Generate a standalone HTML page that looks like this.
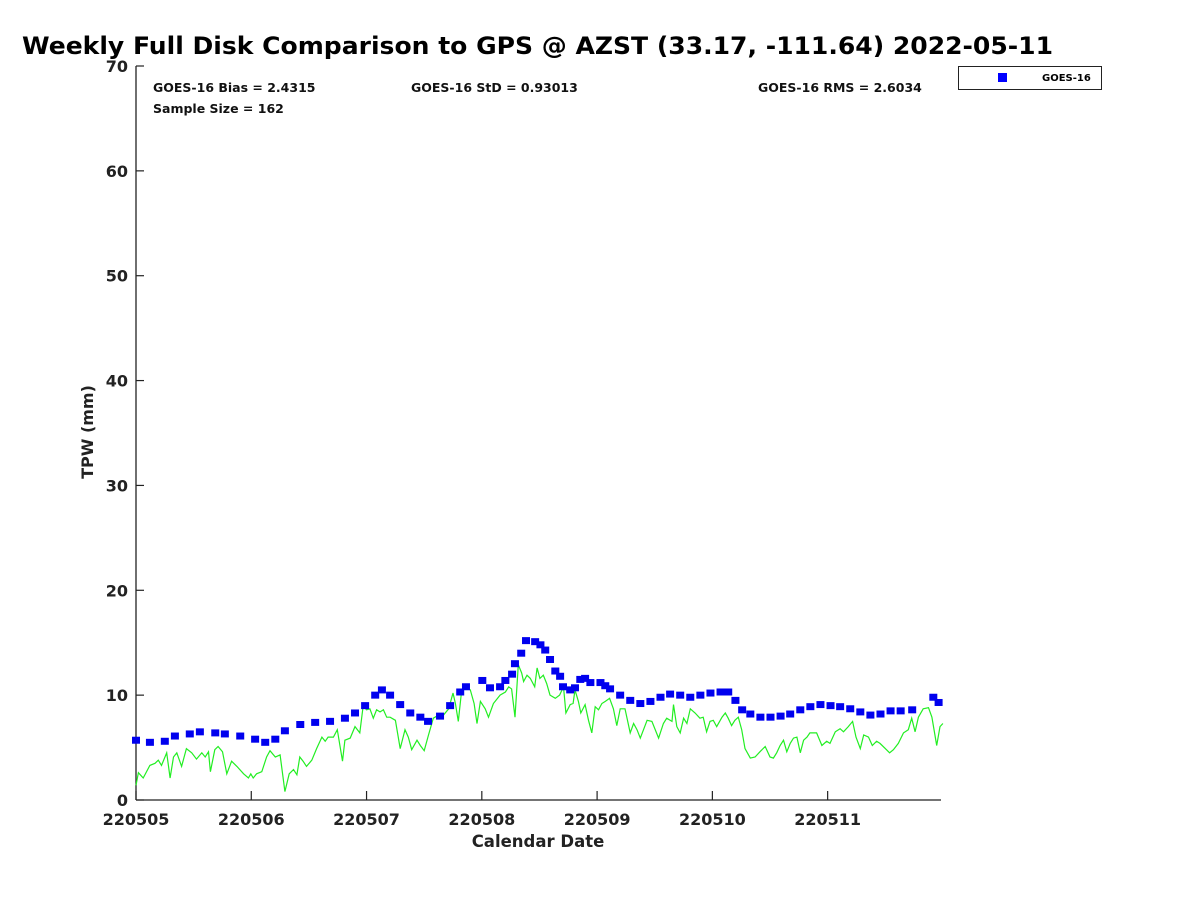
<!DOCTYPE html>
<html><head><meta charset="utf-8"><style>
body{margin:0;background:#fff;}
svg{display:block;font-family:"DejaVu Sans","Liberation Sans",sans-serif;}
</style></head><body>
<svg id="chart" width="1200" height="900" viewBox="0 0 1200 900">
<text x="22" y="54" font-size="24" font-weight="bold" textLength="1031" lengthAdjust="spacingAndGlyphs">Weekly Full Disk Comparison to GPS @ AZST (33.17, -111.64) 2022-05-11</text>
<g font-size="12.5" font-weight="bold" fill="#111">
<text x="153" y="92">GOES-16 Bias = 2.4315</text>
<text x="153" y="113">Sample Size = 162</text>
<text x="411" y="92">GOES-16 StD = 0.93013</text>
<text x="758" y="92">GOES-16 RMS = 2.6034</text>
</g>
<g>
<rect x="958.5" y="66.5" width="143" height="23" fill="#fff" stroke="#222" stroke-width="1"/>
<rect x="998" y="73" width="9" height="9" fill="#0000ff"/>
<text x="1042" y="81" font-size="10" font-weight="bold">GOES-16</text>
</g>
<g id="axes"></g>
<g id="marks"></g>
<text transform="translate(93,432) rotate(-90)" text-anchor="middle" font-size="16" font-weight="bold" fill="#222">TPW (mm)</text>
<text x="538" y="847" text-anchor="middle" font-size="16.5" font-weight="bold" fill="#222">Calendar Date</text>
</svg>
<script>
const xTickLabels=["220505","220506","220507","220508","220509","220510","220511"];
const yTicks=[0,10,20,30,40,50,60,70];
const goesHours=[0,2.9,6.0,8.1,11.2,13.3,16.5,18.5,21.7,24.8,26.9,29.0,31.0,34.2,37.3,40.4,43.5,45.6,47.7,49.8,51.2,52.9,55.0,57.1,59.2,60.8,63.3,65.4,67.5,68.7,72.1,73.7,75.8,76.9,78.3,78.9,80.2,81.2,83.1,84.2,85.2,86.2,87.3,88.3,88.9,90.4,91.4,92.5,93.5,94.6,96.7,97.7,98.7,100.8,102.9,105.0,107.1,109.2,111.2,113.3,115.4,117.5,119.6,121.7,123.3,124.8,126.2,127.9,130.0,132.1,134.2,136.2,138.3,140.4,142.5,144.6,146.6,148.7,150.8,152.9,155.0,157.1,159.2,161.6,166.0,167.1];
const goesTpw=[5.7,5.5,5.6,6.1,6.3,6.5,6.4,6.3,6.1,5.8,5.5,5.8,6.6,7.2,7.4,7.5,7.8,8.3,9.0,10.0,10.5,10.0,9.1,8.3,7.9,7.5,8.0,9.0,10.3,10.8,11.4,10.7,10.8,11.4,12.0,13.0,14.0,15.2,15.1,14.8,14.3,13.4,12.3,11.8,10.8,10.5,10.7,11.5,11.6,11.2,11.2,10.9,10.6,10.0,9.5,9.2,9.4,9.8,10.1,10.0,9.8,10.0,10.2,10.3,10.3,9.5,8.6,8.2,7.9,7.9,8.0,8.2,8.6,8.9,9.1,9.0,8.9,8.7,8.4,8.1,8.2,8.5,8.5,8.6,9.8,9.3];
const gpsHours=[0,0.5,1.5,2.9,3.95,4.65,5.3,6.4,7.1,7.8,8.5,9.5,10.5,11.6,12.6,13.7,14.4,15.1,15.5,16.4,17.1,18.0,18.9,19.9,21.0,22.4,23.4,23.9,24.4,25.1,26.2,27.2,27.9,29.0,30.0,31.0,31.9,32.8,33.5,34.1,34.8,35.5,36.6,37.6,38.7,39.4,40.0,41.1,41.9,43.0,43.5,44.6,45.6,46.6,47.3,48.0,48.7,49.4,50.1,50.8,51.5,52.2,52.9,54.0,55.0,
56.0,56.7,57.4,58.5,59.2,60.0,60.9,61.9,63.0,64.0,65.1,66.0,66.5,67.1,67.8,68.5,69.6,70.4,71.0,71.7,72.7,73.4,74.4,75.8,76.9,77.6,78.2,78.9,79.6,80.3,80.7,81.4,82.1,83.0,83.5,84.1,84.8,85.5,86.2,87.3,88.2,89.0,89.5,90.4,91.0,91.4,92.1,92.6,93.5,94.2,94.9,95.6,96.3,97.0,97.7,98.6,99.4,100.1,100.8,101.8,102.9,103.6,104.3,105.0,106.4,107.4,108.8,109.8,110.5,111.6,
111.9,112.6,113.3,114.0,114.7,115.4,116.4,117.4,118.1,118.8,119.5,120.2,120.9,122.0,122.7,123.3,124.0,124.7,125.4,126.1,126.8,127.9,128.9,129.9,131.0,132.0,132.7,133.4,134.1,134.8,135.5,136.2,136.9,137.6,138.3,139.0,139.7,140.3,141.7,142.8,143.8,144.5,145.6,146.6,147.3,148.3,149.2,149.9,150.8,151.5,152.5,153.3,154.2,154.9,156.0,156.9,157.7,158.7,159.8,160.8,161.5,162.2,162.9,163.9,165.0,165.7,166.7,167.4,168.0];
const gpsTpw=[1.4,2.6,2.1,3.3,3.5,3.8,3.3,4.5,2.1,4.1,4.5,3.2,4.9,4.5,3.9,4.5,4.1,4.6,2.7,4.8,5.1,4.6,2.5,3.7,3.2,2.5,2.1,2.5,2.1,2.5,2.7,4.1,4.7,4.1,4.3,0.8,2.5,2.9,2.4,4.1,3.7,3.2,3.8,4.9,6.0,5.6,6.0,6.0,6.7,3.7,5.7,5.9,7.0,6.4,9.0,8.6,8.7,7.8,8.6,8.4,8.6,7.9,7.9,7.6,4.9,
6.7,6.0,4.8,5.7,5.2,4.7,6.2,7.8,8.1,8.1,8.7,10.2,9.2,7.5,10.5,11.0,10.5,9.2,7.3,9.4,8.7,7.9,9.2,10.0,10.3,10.8,10.6,7.9,12.9,12.1,11.3,11.9,11.6,10.8,12.6,11.6,11.9,11.1,10.0,9.7,10.0,10.8,8.3,9.1,9.2,10.5,9.4,8.3,9.1,7.6,6.4,8.9,8.6,9.2,9.4,9.7,8.7,7.1,8.7,8.7,6.4,7.3,6.7,5.9,7.6,7.5,5.9,7.3,7.8,7.5,
9.1,7.0,6.4,7.8,7.3,8.7,8.3,7.8,7.9,6.5,7.5,7.6,7.0,7.9,8.3,7.8,7.1,7.6,7.9,6.7,4.9,4.0,4.1,4.6,5.1,4.1,4.0,4.5,5.2,5.7,4.6,5.4,5.9,6.0,4.5,5.7,6.0,6.4,6.4,5.2,5.6,5.4,6.5,6.8,6.5,7.0,7.5,6.0,4.9,6.2,6.0,5.2,5.6,5.4,4.9,4.5,4.8,5.4,6.4,6.7,7.8,6.5,7.9,8.7,8.8,7.9,5.2,7.0,7.3];
const X0=136,X1=941,H1=167.6,Y0=800,Y1=66,YMAX=70;
const xs=h=>X0+(h/H1)*(X1-X0);
const ys=v=>Y0-(v/YMAX)*(Y0-Y1);
const NS="http://www.w3.org/2000/svg";
const axes=document.getElementById('axes'),marks=document.getElementById('marks');
function mk(tag,attrs,parent){const e=document.createElementNS(NS,tag);for(const k in attrs)e.setAttribute(k,attrs[k]);parent.appendChild(e);return e;}
let a=mk('line',{x1:X0,y1:Y1,x2:X0,y2:Y0,stroke:'#222','stroke-width':1.3},axes);


a=mk('line',{x1:X0,y1:Y0,x2:X1,y2:Y0,stroke:'#222','stroke-width':1.3},axes);


yTicks.forEach(v=>{
 const t=mk('line',{x1:X0,x2:X0+8,y1:ys(v),y2:ys(v),stroke:'#222','stroke-width':1.2},axes);
 
 
 const l=mk('text',{x:X0-8,y:ys(v)+6,'text-anchor':'end','font-size':16,'font-weight':'bold',fill:'#222'},axes);
 
 
 l.textContent=v;
});
xTickLabels.forEach((s,i)=>{
 const x=xs(i*24);
 const t=mk('line',{x1:x,x2:x,y1:Y0,y2:Y0-9,stroke:'#222','stroke-width':1.2},axes);
 
 
 const l=mk('text',{x:x,y:Y0+25,'text-anchor':'middle','font-size':16,'font-weight':'bold',fill:'#222'},axes);
 
 
 l.textContent=s;
});
const pts=gpsHours.map((h,i)=>xs(h).toFixed(1)+','+ys(gpsTpw[i]).toFixed(1)).join(' ');
const gl=mk('polyline',{points:pts,fill:'none',stroke:'#22ee22','stroke-width':1.2},marks);


goesHours.forEach((h,i)=>{
 const r=mk('rect',{x:xs(h)-4,y:ys(goesTpw[i])-3.5,width:8,height:7,fill:'#0000ee'},marks);
 
 
});
</script>
</body></html>
